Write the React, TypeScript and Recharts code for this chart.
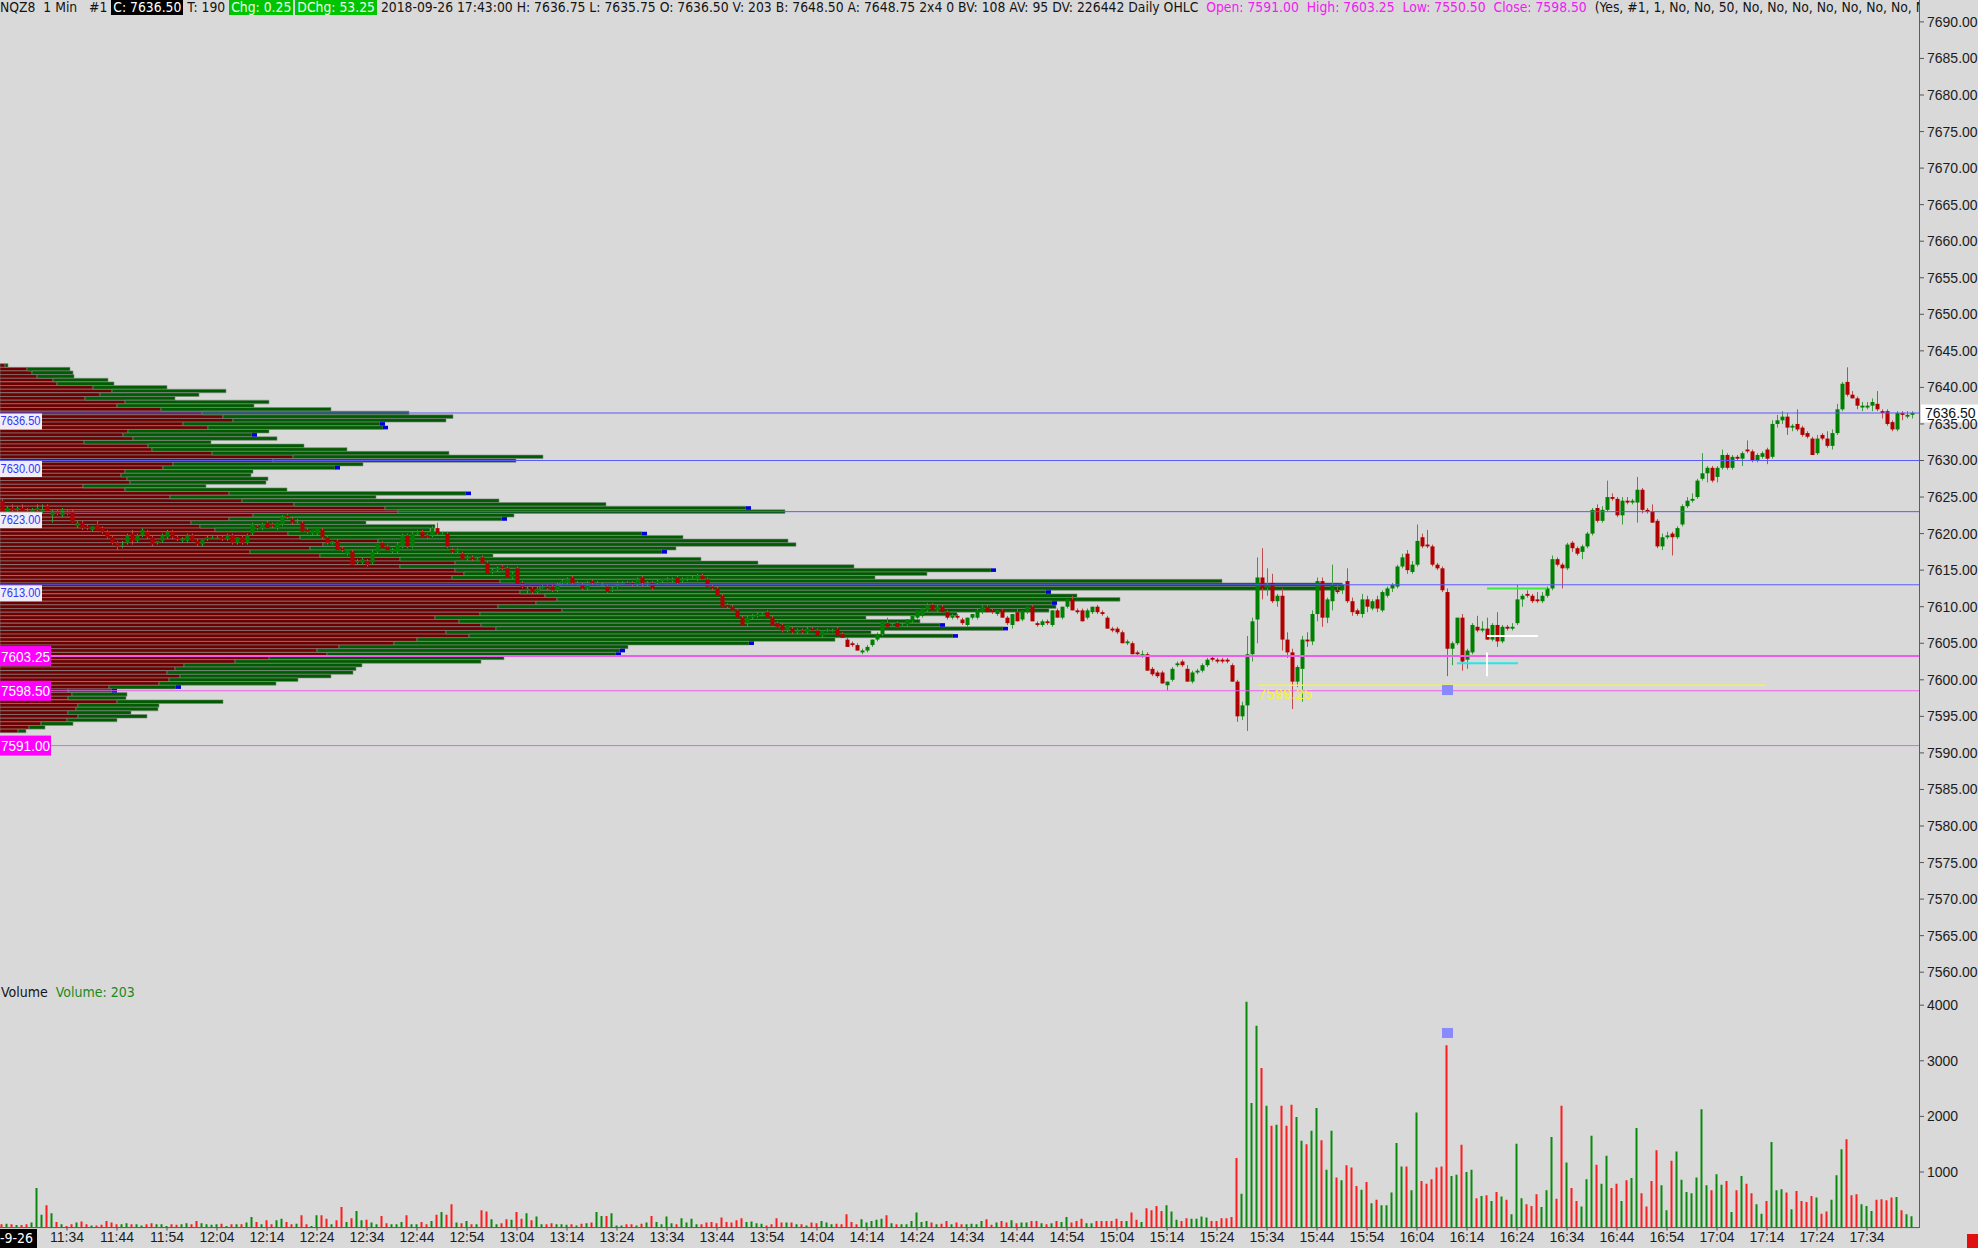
import React from "react";
import { ComposedChart, BarChart, Bar, XAxis, YAxis, ReferenceLine, ReferenceDot, Cell } from "recharts";

const W = 1978;
const PLOT_RIGHT = 1919;
const AXIS_W = W - PLOT_RIGHT;
const PRICE_H = 980;
const PRICE_TOP = 21.9;
const PRICE_BOTTOM = PRICE_H - 972.2;
const VOL_TOP = 975;
const VOL_H = 1248 - VOL_TOP;
const X_DOMAIN: [number, number] = [-0.4, 383.4];
const FONT = "'Liberation Sans', 'DejaVu Sans', sans-serif";
const FONT_NARROW = "'Liberation Sans Narrow', 'DejaVu Sans Condensed', 'Liberation Sans', sans-serif";

// first bar is 11:21, one bar per minute
const START_MIN = 11 * 60 + 21;

// [open, high, low, close]
const BARS: number[][] = [
  [7624.5, 7624.75, 7622.75, 7623.0], [7623.0, 7623.75, 7622.75, 7623.5], [7623.5, 7624.0, 7623.0, 7623.25], [7623.25, 7623.75, 7622.75, 7623.5], [7623.5, 7624.0, 7623.0, 7623.0],
  [7623.0, 7623.5, 7622.5, 7622.75], [7622.75, 7623.5, 7622.5, 7623.25], [7623.25, 7624.0, 7623.0, 7623.5], [7623.0, 7624.0, 7622.75, 7623.25], [7623.75, 7624.0, 7623.0, 7623.0],
  // 10
  [7622.5, 7623.25, 7621.5, 7623.0], [7623.0, 7623.25, 7622.5, 7622.75], [7622.5, 7623.5, 7622.25, 7623.25], [7623.0, 7623.25, 7622.5, 7622.75], [7623.0, 7623.25, 7621.5, 7621.5],
  [7621.0, 7621.75, 7620.75, 7621.5], [7621.5, 7621.75, 7620.5, 7620.75], [7621.0, 7621.25, 7620.5, 7620.75], [7620.5, 7621.0, 7620.25, 7621.0], [7621.25, 7621.75, 7620.5, 7620.5],
  // 20
  [7620.75, 7621.0, 7620.0, 7620.25], [7620.25, 7620.5, 7619.25, 7619.5], [7619.5, 7619.75, 7618.5, 7618.75], [7618.75, 7619.0, 7617.75, 7618.25], [7618.5, 7619.0, 7618.0, 7618.5],
  [7618.75, 7620.0, 7618.5, 7619.75], [7620.0, 7620.5, 7618.5, 7619.0], [7619.0, 7620.0, 7618.75, 7619.75], [7619.75, 7620.75, 7619.5, 7620.5], [7620.25, 7620.5, 7619.25, 7619.5],
  // 30
  [7619.5, 7619.75, 7618.25, 7618.5], [7618.75, 7619.0, 7618.5, 7619.0], [7619.0, 7620.0, 7618.75, 7619.75], [7619.5, 7620.5, 7619.25, 7620.25], [7620.25, 7620.5, 7619.25, 7619.5],
  [7619.5, 7619.75, 7619.0, 7619.25], [7619.0, 7619.5, 7618.75, 7619.25], [7619.0, 7620.0, 7618.75, 7619.75], [7619.75, 7620.0, 7619.0, 7619.0], [7619.0, 7619.25, 7618.25, 7618.5],
  // 40
  [7618.5, 7619.25, 7618.25, 7619.25], [7619.25, 7619.75, 7619.0, 7619.5], [7619.5, 7619.75, 7619.25, 7619.5], [7619.5, 7619.75, 7619.25, 7619.5], [7619.5, 7619.75, 7619.0, 7619.25],
  [7619.25, 7620.0, 7619.0, 7619.75], [7619.75, 7620.0, 7618.5, 7618.75], [7618.75, 7619.5, 7618.5, 7619.5], [7619.5, 7619.75, 7618.5, 7618.75], [7618.75, 7620.0, 7618.5, 7619.75],
  // 50
  [7620.0, 7621.5, 7619.75, 7621.25], [7621.0, 7621.25, 7620.5, 7620.75], [7620.75, 7621.5, 7620.5, 7621.25], [7621.5, 7621.75, 7620.75, 7620.75], [7621.25, 7621.5, 7620.75, 7621.0],
  [7620.75, 7621.5, 7620.5, 7621.5], [7621.25, 7622.5, 7621.0, 7622.25], [7622.5, 7622.75, 7622.0, 7622.25], [7622.0, 7622.25, 7621.25, 7621.5], [7621.5, 7622.0, 7621.25, 7621.5],
  // 60
  [7621.5, 7621.75, 7620.25, 7620.25], [7620.5, 7620.75, 7620.0, 7620.25], [7620.0, 7620.5, 7619.75, 7620.5], [7620.0, 7620.75, 7619.75, 7620.75], [7620.5, 7620.75, 7619.25, 7619.5],
  [7619.5, 7619.75, 7618.5, 7618.75], [7618.75, 7619.0, 7618.5, 7619.0], [7619.0, 7619.25, 7617.75, 7617.75], [7618.0, 7618.25, 7617.5, 7617.75], [7617.25, 7617.75, 7617.0, 7617.75],
  // 70
  [7617.5, 7617.75, 7615.75, 7615.75], [7616.0, 7616.5, 7615.75, 7616.25], [7616.0, 7616.75, 7615.75, 7616.5], [7616.25, 7616.5, 7615.5, 7615.75], [7616.0, 7617.75, 7615.75, 7617.5],
  [7617.5, 7618.5, 7617.25, 7618.5], [7618.75, 7619.0, 7618.0, 7618.0], [7618.25, 7618.5, 7617.75, 7617.75], [7617.5, 7618.0, 7617.25, 7617.75], [7617.5, 7618.75, 7617.25, 7618.5],
  // 80
  [7618.25, 7620.0, 7618.0, 7619.75], [7619.75, 7620.0, 7618.0, 7618.25], [7618.25, 7620.25, 7618.0, 7620.0], [7620.0, 7620.5, 7619.75, 7620.25], [7620.25, 7620.5, 7619.5, 7619.5],
  [7619.75, 7620.0, 7619.25, 7619.5], [7619.75, 7621.0, 7619.5, 7620.75], [7620.75, 7621.5, 7619.75, 7620.0], [7620.0, 7620.25, 7619.75, 7620.0], [7620.0, 7620.25, 7618.0, 7618.25],
  // 90
  [7617.75, 7618.0, 7617.25, 7617.5], [7617.5, 7618.0, 7617.25, 7617.75], [7617.25, 7617.5, 7616.5, 7616.5], [7616.5, 7617.0, 7616.25, 7616.75], [7616.75, 7617.0, 7616.25, 7616.5],
  [7616.5, 7616.75, 7616.25, 7616.5], [7616.75, 7617.0, 7616.0, 7616.0], [7616.0, 7616.25, 7614.5, 7614.5], [7614.75, 7615.25, 7614.5, 7615.0], [7615.0, 7615.5, 7614.75, 7615.25],
  // 100
  [7615.5, 7615.75, 7615.0, 7615.25], [7615.25, 7615.5, 7614.0, 7614.0], [7614.0, 7614.75, 7613.75, 7614.5], [7615.25, 7615.5, 7613.0, 7613.0], [7613.25, 7613.5, 7612.5, 7612.75],
  [7612.25, 7612.75, 7611.75, 7612.5], [7612.5, 7612.75, 7611.75, 7612.0], [7612.0, 7612.75, 7611.75, 7612.5], [7612.75, 7613.0, 7612.5, 7612.75], [7612.75, 7613.0, 7612.25, 7612.5],
  // 110
  [7612.75, 7613.0, 7612.0, 7612.25], [7612.25, 7613.25, 7612.0, 7613.0], [7613.25, 7613.75, 7613.0, 7613.5], [7613.25, 7614.0, 7613.0, 7613.75], [7614.0, 7614.25, 7613.0, 7613.25],
  [7613.25, 7613.5, 7613.0, 7613.25], [7613.0, 7613.25, 7612.25, 7612.5], [7612.5, 7613.5, 7612.25, 7613.25], [7613.5, 7613.75, 7613.0, 7613.25], [7613.25, 7613.5, 7613.0, 7613.25],
  // 120
  [7613.0, 7613.25, 7612.75, 7613.0], [7612.75, 7613.0, 7611.75, 7612.0], [7612.25, 7612.75, 7612.0, 7612.5], [7612.75, 7613.5, 7612.5, 7613.25], [7613.25, 7613.5, 7613.0, 7613.25],
  [7613.25, 7613.5, 7613.0, 7613.0], [7613.25, 7613.5, 7612.75, 7613.0], [7613.0, 7614.0, 7612.75, 7613.75], [7614.0, 7614.25, 7612.75, 7613.25], [7613.0, 7613.5, 7612.75, 7613.25],
  // 130
  [7613.25, 7613.5, 7612.25, 7612.5], [7613.25, 7613.75, 7613.0, 7613.5], [7613.5, 7613.75, 7613.25, 7613.75], [7613.75, 7614.0, 7613.5, 7613.75], [7613.5, 7614.0, 7613.25, 7613.75],
  [7614.0, 7614.25, 7613.0, 7613.25], [7613.5, 7614.0, 7613.25, 7613.75], [7613.75, 7614.0, 7613.5, 7614.0], [7614.0, 7614.25, 7613.75, 7614.0], [7613.75, 7614.5, 7613.5, 7614.25],
  // 140
  [7614.25, 7614.5, 7613.75, 7613.75], [7613.75, 7614.0, 7612.75, 7612.75], [7612.75, 7613.0, 7612.25, 7612.5], [7612.5, 7612.75, 7611.5, 7611.5], [7611.5, 7611.75, 7610.0, 7610.0],
  [7610.25, 7610.5, 7609.75, 7610.0], [7610.0, 7610.25, 7609.5, 7609.5], [7609.5, 7609.75, 7608.5, 7608.5], [7608.5, 7608.75, 7607.5, 7607.5], [7607.75, 7608.75, 7607.25, 7608.5],
  // 150
  [7608.5, 7609.0, 7608.25, 7608.75], [7608.75, 7609.25, 7608.5, 7609.0], [7609.0, 7609.25, 7608.75, 7609.0], [7609.25, 7609.5, 7608.5, 7608.5], [7608.5, 7608.75, 7607.5, 7607.5],
  [7607.75, 7608.0, 7607.25, 7607.25], [7607.5, 7607.75, 7606.5, 7606.75], [7606.75, 7607.5, 7606.5, 7607.5], [7607.0, 7607.25, 7606.25, 7606.5], [7606.5, 7607.0, 7606.25, 7606.75],
  // 160
  [7606.75, 7607.0, 7606.25, 7606.5], [7606.5, 7607.25, 7606.25, 7607.0], [7607.0, 7607.25, 7606.75, 7606.75], [7606.75, 7607.0, 7606.0, 7606.0], [7606.0, 7606.75, 7605.75, 7606.75],
  [7606.75, 7607.0, 7606.5, 7606.75], [7606.75, 7607.0, 7606.5, 7606.75], [7607.0, 7607.25, 7606.0, 7606.0], [7606.25, 7606.5, 7605.75, 7605.75], [7605.5, 7605.75, 7604.5, 7604.5],
  // 170
  [7605.0, 7605.25, 7604.5, 7604.75], [7604.75, 7605.0, 7604.0, 7604.0], [7603.75, 7604.25, 7603.5, 7604.0], [7604.0, 7604.75, 7603.75, 7604.5], [7604.75, 7605.5, 7604.5, 7605.5],
  [7605.5, 7606.5, 7605.25, 7606.25], [7606.25, 7608.0, 7606.0, 7608.0], [7607.75, 7608.5, 7607.25, 7607.25], [7607.5, 7607.75, 7607.25, 7607.5], [7607.75, 7608.0, 7607.25, 7607.25],
  // 180
  [7607.5, 7607.75, 7607.25, 7607.5], [7607.5, 7608.25, 7607.25, 7608.25], [7608.0, 7608.75, 7607.75, 7608.75], [7608.5, 7609.5, 7608.25, 7609.5], [7608.75, 7609.75, 7608.5, 7609.75],
  [7609.5, 7610.5, 7609.25, 7610.25], [7610.25, 7610.5, 7609.5, 7609.5], [7609.5, 7610.25, 7609.25, 7610.0], [7610.0, 7610.25, 7609.25, 7609.25], [7609.25, 7609.5, 7608.25, 7608.5],
  // 190
  [7608.5, 7609.0, 7608.25, 7608.75], [7608.75, 7609.0, 7608.25, 7608.5], [7608.25, 7608.5, 7607.5, 7607.75], [7607.5, 7608.5, 7607.25, 7608.5], [7608.5, 7609.0, 7608.25, 7609.0],
  [7608.5, 7609.75, 7608.25, 7609.5], [7609.25, 7610.25, 7609.0, 7610.0], [7610.0, 7610.25, 7609.25, 7609.25], [7609.5, 7609.75, 7609.0, 7609.25], [7609.0, 7609.5, 7608.75, 7609.5],
  // 200
  [7609.5, 7609.75, 7608.5, 7608.5], [7608.5, 7608.75, 7607.5, 7607.75], [7607.5, 7609.0, 7607.0, 7609.0], [7609.25, 7609.75, 7608.0, 7608.0], [7608.25, 7609.5, 7608.0, 7609.5],
  [7609.25, 7610.0, 7609.0, 7610.0], [7610.0, 7610.25, 7608.0, 7608.0], [7607.75, 7608.0, 7607.25, 7607.5], [7607.5, 7608.25, 7607.25, 7608.0], [7608.0, 7608.25, 7607.5, 7607.75],
  // 210
  [7607.5, 7609.5, 7607.25, 7609.5], [7609.5, 7609.75, 7608.5, 7608.5], [7608.5, 7610.0, 7608.25, 7610.0], [7610.0, 7611.0, 7609.75, 7611.0], [7611.0, 7611.5, 7609.5, 7609.5],
  [7609.5, 7609.75, 7609.0, 7609.25], [7609.5, 7609.75, 7608.0, 7608.0], [7608.5, 7609.75, 7608.25, 7609.5], [7609.25, 7610.0, 7609.0, 7610.0], [7610.0, 7610.25, 7609.0, 7609.25],
  // 220
  [7609.25, 7609.5, 7608.75, 7609.0], [7608.5, 7608.75, 7607.0, 7607.0], [7607.0, 7607.25, 7606.5, 7606.75], [7607.0, 7607.25, 7606.25, 7606.5], [7606.5, 7606.75, 7605.0, 7605.0],
  [7605.0, 7605.5, 7604.75, 7605.25], [7605.0, 7605.25, 7603.5, 7603.5], [7603.75, 7604.0, 7603.25, 7603.5], [7603.25, 7604.0, 7603.0, 7603.5], [7603.5, 7603.75, 7601.25, 7601.25],
  // 230
  [7601.5, 7601.75, 7600.5, 7600.75], [7601.0, 7601.25, 7600.25, 7600.5], [7601.0, 7601.25, 7599.5, 7599.5], [7599.25, 7599.75, 7598.5, 7599.75], [7600.0, 7601.75, 7599.75, 7601.5],
  [7602.0, 7602.5, 7601.75, 7602.25], [7602.5, 7602.75, 7601.75, 7602.0], [7601.5, 7602.0, 7599.75, 7599.75], [7599.75, 7601.25, 7599.5, 7601.0], [7601.0, 7601.5, 7600.75, 7601.25],
  // 240
  [7601.25, 7602.25, 7601.0, 7602.0], [7602.0, 7603.0, 7601.75, 7602.75], [7603.0, 7603.25, 7602.5, 7602.75], [7602.75, 7603.0, 7602.25, 7602.5], [7602.75, 7603.0, 7602.25, 7602.5],
  [7602.75, 7603.0, 7602.25, 7602.5], [7602.0, 7602.25, 7599.75, 7599.75], [7599.75, 7600.0, 7594.25, 7595.0], [7595.0, 7597.0, 7594.5, 7596.5], [7596.5, 7606.0, 7593.0, 7603.5],
  // 250
  [7603.5, 7608.5, 7602.5, 7608.0], [7608.25, 7616.75, 7605.0, 7614.0], [7614.0, 7618.0, 7611.0, 7612.5], [7612.5, 7615.25, 7611.5, 7613.0], [7613.25, 7614.5, 7610.5, 7610.75],
  [7610.75, 7611.75, 7610.0, 7611.5], [7611.5, 7612.5, 7604.0, 7605.5], [7605.5, 7606.5, 7603.0, 7603.75], [7603.75, 7604.25, 7596.0, 7599.75], [7599.75, 7602.0, 7599.0, 7601.75],
  // 260
  [7601.5, 7606.0, 7597.0, 7605.5], [7605.5, 7606.5, 7604.5, 7605.25], [7605.25, 7609.5, 7604.75, 7609.0], [7609.0, 7614.0, 7608.0, 7613.5], [7613.5, 7614.0, 7607.25, 7608.5],
  [7608.5, 7611.25, 7607.75, 7611.0], [7610.75, 7615.75, 7609.5, 7613.0], [7612.25, 7613.0, 7611.75, 7612.0], [7612.25, 7613.25, 7611.75, 7613.0], [7613.5, 7615.25, 7610.5, 7610.75],
  // 270
  [7610.75, 7611.25, 7608.75, 7609.25], [7609.5, 7609.75, 7608.75, 7609.0], [7609.0, 7611.75, 7608.5, 7611.0], [7611.0, 7611.5, 7609.25, 7610.0], [7609.75, 7611.0, 7609.5, 7610.75],
  [7611.0, 7611.5, 7609.25, 7609.75], [7609.5, 7612.25, 7609.25, 7612.0], [7611.5, 7612.75, 7611.25, 7612.5], [7612.5, 7613.25, 7612.0, 7613.0], [7612.75, 7615.75, 7612.5, 7615.5],
  // 280
  [7615.5, 7617.25, 7615.25, 7616.75], [7617.25, 7617.75, 7614.5, 7615.0], [7614.75, 7616.25, 7614.5, 7615.75], [7615.75, 7621.25, 7615.5, 7619.0], [7619.5, 7620.0, 7618.0, 7618.25],
  [7618.5, 7620.5, 7618.0, 7618.25], [7618.25, 7618.5, 7615.5, 7615.75], [7615.75, 7616.0, 7615.0, 7615.25], [7615.25, 7615.5, 7612.0, 7612.25], [7612.0, 7612.5, 7600.5, 7604.25],
  // 290
  [7604.25, 7605.25, 7602.0, 7605.0], [7605.0, 7608.5, 7604.75, 7608.5], [7608.5, 7609.0, 7601.25, 7602.5], [7602.75, 7604.25, 7601.5, 7604.0], [7603.75, 7607.75, 7603.5, 7607.5],
  [7607.25, 7608.75, 7606.5, 7606.75], [7606.75, 7608.0, 7606.5, 7607.0], [7607.0, 7608.5, 7605.5, 7605.5], [7605.5, 7607.75, 7605.25, 7607.5], [7607.5, 7609.25, 7604.5, 7605.25],
  // 300
  [7605.25, 7607.5, 7605.0, 7607.25], [7607.25, 7607.5, 7606.75, 7607.0], [7607.0, 7607.75, 7606.75, 7607.25], [7607.75, 7613.0, 7607.5, 7611.0], [7611.0, 7611.75, 7610.0, 7611.5],
  [7611.75, 7612.25, 7611.25, 7611.5], [7611.5, 7611.75, 7610.5, 7610.75], [7611.0, 7612.0, 7610.5, 7610.75], [7610.75, 7612.0, 7610.5, 7611.5], [7611.5, 7612.75, 7611.25, 7612.5],
  // 310
  [7612.5, 7617.0, 7612.25, 7616.5], [7616.5, 7616.75, 7615.5, 7615.75], [7615.75, 7616.0, 7612.5, 7615.25], [7615.25, 7618.75, 7615.0, 7618.5], [7618.75, 7619.0, 7617.5, 7618.0],
  [7618.0, 7618.25, 7617.0, 7617.25], [7617.5, 7618.5, 7616.5, 7618.25], [7618.25, 7620.25, 7618.0, 7620.0], [7620.0, 7623.5, 7619.75, 7623.25], [7623.5, 7624.0, 7621.5, 7621.75],
  // 320
  [7621.75, 7623.75, 7621.5, 7623.25], [7623.25, 7627.25, 7623.0, 7625.0], [7625.0, 7625.5, 7624.5, 7624.75], [7624.75, 7625.0, 7622.25, 7622.5], [7622.5, 7625.0, 7621.25, 7624.5],
  [7624.5, 7625.0, 7624.0, 7624.25], [7624.25, 7624.75, 7624.0, 7624.5], [7624.25, 7627.75, 7621.5, 7626.0], [7626.0, 7626.25, 7622.75, 7623.25], [7623.25, 7623.5, 7622.75, 7623.0],
  // 330
  [7623.0, 7624.0, 7621.5, 7621.5], [7621.75, 7622.0, 7618.0, 7618.25], [7618.25, 7620.0, 7617.75, 7619.5], [7619.5, 7620.25, 7619.25, 7619.75], [7620.0, 7620.25, 7617.0, 7619.5],
  [7619.5, 7621.0, 7619.25, 7620.75], [7621.25, 7624.0, 7621.0, 7623.75], [7623.75, 7625.0, 7623.5, 7624.5], [7624.5, 7625.5, 7624.25, 7624.75], [7625.0, 7627.5, 7624.75, 7627.25],
  // 340
  [7627.5, 7631.0, 7627.25, 7628.25], [7628.25, 7629.25, 7627.0, 7629.0], [7629.0, 7629.25, 7627.0, 7627.25], [7627.75, 7629.25, 7627.0, 7629.0], [7629.0, 7631.5, 7628.75, 7630.75],
  [7630.75, 7631.0, 7628.75, 7629.0], [7629.0, 7630.75, 7628.75, 7630.5], [7630.5, 7630.75, 7630.0, 7630.25], [7630.25, 7631.25, 7629.25, 7631.0], [7631.5, 7632.75, 7631.0, 7631.25],
  // 350
  [7631.25, 7631.5, 7629.75, 7630.0], [7630.0, 7631.0, 7629.75, 7630.75], [7630.5, 7631.25, 7630.25, 7631.0], [7631.5, 7631.75, 7629.5, 7630.25], [7630.5, 7635.5, 7630.25, 7635.0],
  [7635.0, 7636.25, 7634.5, 7635.5], [7635.5, 7636.75, 7635.0, 7636.0], [7636.0, 7636.5, 7633.5, 7634.5], [7634.5, 7635.0, 7634.0, 7634.75], [7635.0, 7637.0, 7634.0, 7634.25],
  // 360
  [7634.5, 7634.75, 7633.25, 7633.5], [7633.75, 7634.0, 7633.0, 7633.25], [7633.0, 7633.25, 7630.75, 7630.75], [7631.0, 7633.5, 7630.75, 7633.0], [7633.5, 7633.75, 7632.75, 7633.0],
  [7633.0, 7634.0, 7631.75, 7632.0], [7632.0, 7634.25, 7631.5, 7633.75], [7633.75, 7637.75, 7633.5, 7637.0], [7637.0, 7640.75, 7636.75, 7640.5], [7640.75, 7642.75, 7638.75, 7639.0],
  // 370
  [7639.0, 7639.5, 7638.5, 7638.5], [7638.5, 7638.75, 7637.0, 7637.5], [7637.25, 7638.0, 7636.75, 7637.5], [7637.25, 7638.0, 7637.0, 7637.5], [7637.5, 7638.5, 7636.75, 7638.0],
  [7637.75, 7639.5, 7636.75, 7637.0], [7636.75, 7637.0, 7635.75, 7636.5], [7636.75, 7637.0, 7634.75, 7635.0], [7635.25, 7635.5, 7634.0, 7634.25], [7634.25, 7636.75, 7634.0, 7636.5],
  // 380
  [7636.5, 7636.75, 7635.5, 7636.25], [7636.0, 7636.75, 7635.75, 7636.25], [7636.25, 7636.75, 7635.75, 7636.5],
];

const VOLUMES: number[] = [
  60, 70, 60, 45, 45, 60, 90, 710, 230, 400,
  260, 100, 60, 30, 60, 90, 110, 60, 40, 40,
  50, 120, 90, 60, 60, 80, 60, 60, 40, 60,
  80, 60, 60, 30, 60, 50, 60, 80, 60, 120,
  80, 60, 50, 60, 70, 30, 60, 60, 60, 90,
  190, 100, 60, 130, 60, 130, 160, 100, 60, 70,
  220, 60, 30, 220, 220, 160, 60, 130, 370, 100,
  170, 300, 130, 140, 90, 60, 210, 80, 60, 60,
  100, 220, 60, 60, 100, 60, 120, 230, 280, 230,
  420, 90, 80, 120, 60, 60, 310, 290, 150, 60,
  80, 150, 140, 280, 160, 260, 130, 200, 60, 60,
  80, 60, 60, 50, 60, 40, 70, 80, 90, 280,
  210, 210, 260, 40, 40, 60, 60, 40, 70, 90,
  210, 100, 60, 200, 80, 60, 170, 90, 160, 60,
  60, 90, 100, 80, 180, 100, 90, 130, 170, 100,
  110, 80, 70, 40, 60, 170, 90, 90, 90, 60,
  60, 40, 90, 80, 120, 90, 60, 70, 60, 240,
  100, 60, 150, 90, 120, 140, 160, 220, 80, 60,
  60, 60, 120, 270, 100, 120, 90, 60, 70, 120,
  60, 90, 60, 60, 70, 60, 120, 150, 50, 90,
  120, 90, 130, 80, 90, 90, 120, 120, 80, 60,
  80, 120, 100, 190, 90, 120, 160, 80, 80, 120,
  120, 120, 120, 160, 120, 120, 270, 140, 100, 350,
  310, 390, 300, 400, 290, 140, 120, 170, 160, 160,
  200, 180, 120, 120, 170, 170, 190, 1250, 610, 4060,
  2240, 3630, 2870, 2190, 1830, 1850, 2190, 1830, 2210, 1990,
  1560, 1500, 1740, 2150, 1570, 1040, 1740, 900, 850, 1120,
  1080, 750, 680, 820, 440, 500, 400, 400, 630, 1520,
  1100, 1100, 670, 2070, 840, 790, 870, 1080, 1100, 3280,
  930, 950, 1490, 1000, 1040, 530, 570, 580, 480, 640,
  560, 500, 240, 1510, 530, 420, 390, 600, 370, 670,
  1630, 520, 2190, 1170, 710, 480, 380, 870, 1650, 1130,
  790, 1290, 710, 790, 480, 850, 890, 1790, 620, 380,
  840, 1390, 760, 310, 1200, 1370, 860, 640, 620, 900,
  2130, 760, 670, 960, 770, 840, 280, 670, 930, 790,
  620, 420, 250, 480, 1540, 670, 690, 630, 330, 660,
  480, 460, 570, 540, 250, 290, 500, 940, 1410, 1590,
  580, 600, 420, 390, 300, 500, 510, 490, 540, 550,
  310, 240, 203,
];

// volume profile rows: [price, sell volume, total volume]
const PROFILE: number[][] = [
  [7643, 5, 8], [7642.5, 27, 70], [7642, 32, 73], [7641.5, 37, 74], [7641, 53, 108],
  [7640.5, 57, 114], [7640, 93, 167], [7639.5, 112, 226], [7639, 100, 199], [7638.5, 85, 175],
  [7638, 125, 269], [7637.5, 117, 254], [7637, 161, 331], [7636.5, 202, 409], [7636, 223, 453],
  [7635.5, 233, 446], [7635, 183, 380], [7634.5, 208, 383], [7634, 128, 269], [7633.5, 123, 252],
  [7633, 133, 277], [7632.5, 84, 211], [7632, 148, 304], [7631.5, 152, 347], [7631, 212, 449],
  [7630.5, 293, 543], [7630, 273, 516], [7629.5, 173, 363], [7629, 163, 335], [7628.5, 125, 253],
  [7628, 121, 251], [7627.5, 127, 268], [7627, 130, 266], [7626.5, 83, 206], [7626, 125, 287],
  [7625.5, 229, 466], [7625, 170, 376], [7624.5, 242, 499], [7624, 294, 606], [7623.5, 385, 746],
  [7623, 398, 785], [7622.5, 253, 514], [7622, 229, 502], [7621.5, 191, 366], [7621, 200, 435],
  [7620.5, 215, 430], [7620, 288, 642], [7619.5, 300, 683], [7619, 378, 788], [7618.5, 323, 796],
  [7618, 310, 676], [7617.5, 250, 662], [7617, 320, 493], [7616.5, 400, 701], [7616, 455, 758],
  [7615.5, 400, 854], [7615, 455, 991], [7614.5, 464, 927], [7614, 452, 875], [7613.5, 500, 1222],
  [7613, 560, 1342], [7612.5, 540, 1343], [7612, 520, 1046], [7611.5, 545, 1077], [7611, 557, 1120],
  [7610.5, 536, 1052], [7610, 498, 1056], [7609.5, 562, 1049], [7609, 480, 957], [7608.5, 435, 866],
  [7608, 459, 920], [7607.5, 481, 940], [7607, 496, 1003], [7606.5, 446, 871], [7606, 469, 953],
  [7605.5, 417, 835], [7605, 394, 749], [7604.5, 339, 628], [7604, 317, 620], [7603.5, 327, 616],
  [7603, 269, 504], [7602.5, 235, 481], [7602, 184, 362], [7601.5, 175, 356], [7601, 167, 353],
  [7600.5, 180, 331], [7600, 169, 298], [7599.5, 159, 276], [7599, 109, 176], [7598.5, 68, 112],
  [7598, 72, 127], [7597.5, 68, 126], [7597, 117, 223], [7596.5, 78, 159], [7596, 76, 158],
  [7595.5, 68, 131], [7595, 78, 147], [7594.5, 67, 117], [7594, 41, 73], [7593.5, 29, 45],
  [7593, 18, 26],
];
// rows whose bar ends with the blue marker
const PROFILE_TIPS = [7635, 7634.5, 7633.5, 7629, 7625.5, 7623.5, 7622, 7620, 7617.5, 7615, 7612, 7610.5, 7607.5, 7607, 7606, 7605, 7604, 7603.5, 7599, 7598.5];

const PRICE_TICKS = [7560, 7565, 7570, 7575, 7580, 7585, 7590, 7595, 7600, 7605, 7610, 7615, 7620, 7625, 7630, 7635, 7640, 7645, 7650, 7655, 7660, 7665, 7670, 7675, 7680, 7685, 7690];
const VOLUME_TICKS = [1000, 2000, 3000, 4000];
const TIME_TICKS = [13, 23, 33, 43, 53, 63, 73, 83, 93, 103, 113, 123, 133, 143, 153, 163, 173, 183, 193, 203, 213, 223, 233, 243, 253, 263, 273, 283, 293, 303, 313, 323, 333, 343, 353, 363, 373];

const BLUE_LEVELS = [7636.5, 7630, 7623, 7613];
const MAGENTA_LEVELS = [7603.25, 7598.5, 7591];
const LAST_PRICE = 7636.5;

// drawn annotations: [fromBar, toBar, price, colour]
const SEGMENTS: [number, number, number, string][] = [
  [251.2, 352.8, 7599.25, "#f6f636"],
  [291, 303.2, 7602.25, "#22e8ee"],
  [297, 307.2, 7606.0, "#ffffff"],
  [297, 309, 7612.5, "#3ee83e"],
];
const WHITE_TICK: [number, number, number] = [297, 7603.75, 7600.5];
const MARK_BAR = 289;
const MARK_PRICE = 7598.6;
const MARK_VOLUME = 3500;

const candles = BARS.map((b, i) => ({ i, o: b[0], h: b[1], l: b[2], c: b[3], range: [b[2], b[1]], v: VOLUMES[i] }));
const profileData = PROFILE.map(([p, r, t]) => ({ p, red: r, green: t - r, blue: PROFILE_TIPS.includes(p) ? 5 : 0 }));

const fmtTime = (i: number) => {
  const m = START_MIN + i;
  return `${Math.floor(m / 60)}:${String(m % 60).padStart(2, "0")}`;
};

function Candle(props: any) {
  const { x, width, payload } = props;
  let { y, height } = props;
  if (height < 0) { y = y + height; height = -height; }
  const { o, h, l, c } = payload;
  const up = c >= o;
  const span = h - l || 1;
  const yAt = (p: number) => y + ((h - p) / span) * height;
  const top = yAt(Math.max(o, c));
  const bot = yAt(Math.min(o, c));
  const cx = Math.round(x + width / 2) + 0.5;
  return (
    <g>
      <line x1={cx} x2={cx} y1={y} y2={y + height} stroke={up ? "#3f9a3f" : "#c24a4a"} strokeWidth={1} />
      <rect x={cx - width / 2} y={top} width={width} height={Math.max(1.2, bot - top)} fill={up ? "#008000" : "#b00000"} />
    </g>
  );
}

function LevelTag({ viewBox, text, magenta }: any) {
  if (!viewBox) return null;
  const { x, y } = viewBox;
  if (magenta) {
    return (
      <g>
        <rect x={x} y={y - 10} width={51} height={20} fill="#ff00ff" />
        <text x={x + 1} y={y + 5.5} fontSize={14.5} fill="#ffffff" fontFamily={FONT} textLength={49} lengthAdjust="spacingAndGlyphs">{text}</text>
      </g>
    );
  }
  return (
    <g>
      <rect x={x} y={y + 0.5} width={42} height={16} fill="#eeeef4" />
      <text x={x + 0.5} y={y + 12.5} fontSize={12.5} fill="#3434ff" fontFamily={FONT} textLength={40} lengthAdjust="spacingAndGlyphs">{text}</text>
    </g>
  );
}

function LastPriceTag({ viewBox }: any) {
  if (!viewBox) return null;
  const { x, y, width } = viewBox;
  return (
    <g>
      <LevelTag viewBox={viewBox} text={LAST_PRICE.toFixed(2)} />
      <rect x={x + width + 2} y={y - 8.5} width={W - (x + width + 2)} height={18} fill="#ffffff" />
      <text x={x + width + 6} y={y + 5.5} fontSize={14} fill="#111" fontFamily={FONT}>{LAST_PRICE.toFixed(2)}</text>
    </g>
  );
}

function Square(props: any) {
  const { cx, cy } = props;
  return <rect x={cx - 5} y={cy - 5} width={11} height={10} fill="#8a8aff" />;
}

const hdr: React.CSSProperties = { padding: "0 2px" };

export default function App() {
  return (
    <div style={{ position: "absolute", left: 0, top: 0, width: W, height: 1248, background: "#d9d9d9", fontFamily: FONT, overflow: "hidden" }}>
      {/* volume profile underneath the price pane */}
      <div style={{ position: "absolute", left: 0, top: 0 }}>
        <BarChart layout="vertical" width={W} height={PRICE_H} data={profileData} margin={{ top: PRICE_TOP, bottom: PRICE_BOTTOM, left: 0, right: AXIS_W }} barCategoryGap={0}>
          <XAxis type="number" domain={[0, PLOT_RIGHT]} hide />
          <YAxis type="number" dataKey="p" domain={[7560, 7690]} reversed hide />
          <Bar dataKey="red" stackId="vp" fill="#6e0000" stroke="#858585" strokeWidth={0.6} barSize={3.6} isAnimationActive={false} />
          <Bar dataKey="green" stackId="vp" fill="#005c00" stroke="#858585" strokeWidth={0.6} barSize={3.6} isAnimationActive={false} />
          <Bar dataKey="blue" stackId="vp" fill="#0000d8" barSize={3.6} isAnimationActive={false} />
        </BarChart>
      </div>

      {/* price pane */}
      <div style={{ position: "absolute", left: 0, top: 0 }}>
        <ComposedChart width={W} height={PRICE_H} data={candles} margin={{ top: PRICE_TOP, bottom: PRICE_BOTTOM, left: 0, right: 0 }}>
          <XAxis type="number" dataKey="i" domain={X_DOMAIN} allowDataOverflow hide />
          <YAxis orientation="right" width={AXIS_W} domain={[7560, 7690]} ticks={PRICE_TICKS} interval={0} allowDataOverflow
            axisLine={false} tickLine={{ stroke: "#555" }} tickSize={5} tickMargin={3}
            tick={{ fontSize: 14, fill: "#1c1c1c" }} tickFormatter={(v: number) => v.toFixed(2)} />
          {BLUE_LEVELS.map((p) => (
            <ReferenceLine key={p} y={p} stroke="#5a5aff" strokeWidth={1}
              label={p === LAST_PRICE ? (props: any) => <LastPriceTag viewBox={props.viewBox} /> : (props: any) => <LevelTag viewBox={props.viewBox} text={p.toFixed(2)} />} />
          ))}
          {MAGENTA_LEVELS.map((p, k) => (
            <ReferenceLine key={p} y={p} stroke="#ee5cee" strokeWidth={k === 0 ? 2 : 1}
              label={(props: any) => <LevelTag viewBox={props.viewBox} text={p.toFixed(2)} magenta />} />
          ))}
          {SEGMENTS.map(([a, b, p, col], k) => (
            <ReferenceLine key={"s" + k} segment={[{ x: a, y: p }, { x: b, y: p }]} stroke={col} strokeWidth={k === 0 ? 1.5 : 2}
              label={k === 0 ? (props: any) => (props.viewBox ? <text x={props.viewBox.x} y={props.viewBox.y + 14} fontSize={15} fill="#f4f430">{p.toFixed(2)}</text> : null) : undefined} />
          ))}
          <ReferenceLine segment={[{ x: WHITE_TICK[0], y: WHITE_TICK[1] }, { x: WHITE_TICK[0], y: WHITE_TICK[2] }]} stroke="#ffffff" strokeWidth={2} />
          <Bar dataKey="range" shape={Candle} barSize={4} isAnimationActive={false} />
          <ReferenceDot x={MARK_BAR} y={MARK_PRICE} r={5} shape={Square} />
        </ComposedChart>
      </div>

      {/* volume pane */}
      <div style={{ position: "absolute", left: 0, top: VOL_TOP }}>
        <ComposedChart width={W} height={VOL_H} data={candles} margin={{ top: 13.5, bottom: 0, left: 0, right: 0 }}>
          <XAxis type="number" dataKey="i" domain={X_DOMAIN} allowDataOverflow ticks={TIME_TICKS} interval={0} height={20.4}
            axisLine={{ stroke: "#555" }} tickLine={{ stroke: "#555" }} tickSize={3} tickMargin={1}
            tick={{ fontSize: 14, fill: "#1c1c1c" }} tickFormatter={fmtTime} />
          <YAxis orientation="right" width={AXIS_W} domain={[0, 4300]} ticks={VOLUME_TICKS} interval={0} allowDataOverflow
            axisLine={false} tickLine={{ stroke: "#555" }} tickSize={5} tickMargin={3}
            tick={{ fontSize: 14, fill: "#1c1c1c" }} />
          <Bar dataKey="v" barSize={2} isAnimationActive={false}>
            {candles.map((d) => (
              <Cell key={d.i} fill={d.c >= d.o ? "#0a8a0a" : "#ff1c1c"} />
            ))}
          </Bar>
          <ReferenceDot x={MARK_BAR} y={MARK_VOLUME} r={5} shape={Square} />
        </ComposedChart>
      </div>

      {/* right axis line */}
      <div style={{ position: "absolute", left: PLOT_RIGHT, top: 0, width: 1, height: 1228, background: "#5c5c5c" }} />

      {/* header line */}
      <div style={{ position: "absolute", left: 0, top: 0, width: PLOT_RIGHT, height: 16, overflow: "hidden", whiteSpace: "pre", fontFamily: FONT_NARROW, fontSize: 13.8, lineHeight: "15px", color: "#141414" }}>
        <span>{"NQZ8  1 Min   #1 "}</span>
        <span style={{ ...hdr, background: "#000", color: "#fff" }}>C: 7636.50</span>
        <span>{" T: 190 "}</span>
        <span style={{ ...hdr, background: "#00c400", color: "#eaffea" }}>Chg: 0.25</span>
        <span style={{ ...hdr, background: "#00c400", color: "#eaffea", marginLeft: 2 }}>DChg: 53.25</span>
        <span>{" 2018-09-26 17:43:00 H: 7636.75 L: 7635.75 O: 7636.50 V: 203 B: 7648.50 A: 7648.75 2x4 0 BV: 108 AV: 95 DV: 226442 Daily OHLC  "}</span>
        <span style={{ color: "#f020f0" }}>{"Open: 7591.00  High: 7603.25  Low: 7550.50  Close: 7598.50  "}</span>
        <span>{"(Yes, #1, 1, No, No, 50, No, No, No, No, No, No, No, No"}</span>
      </div>

      {/* volume study title */}
      <div style={{ position: "absolute", left: 1, top: 984, fontSize: 14, whiteSpace: "pre", fontFamily: FONT_NARROW }}>
        <span style={{ color: "#141414" }}>{"Volume  "}</span>
        <span style={{ color: "#1a8a1a" }}>Volume: 203</span>
      </div>

      {/* date stub at the left of the time scale */}
      <div style={{ position: "absolute", left: 0, top: 1229, width: 37, height: 19, background: "#000", color: "#fff", fontSize: 14, lineHeight: "19px", fontFamily: FONT_NARROW }}>-9-26</div>
      <div style={{ position: "absolute", left: 1967, top: 1234, width: 11, height: 14, background: "#e01010" }} />
    </div>
  );
}
